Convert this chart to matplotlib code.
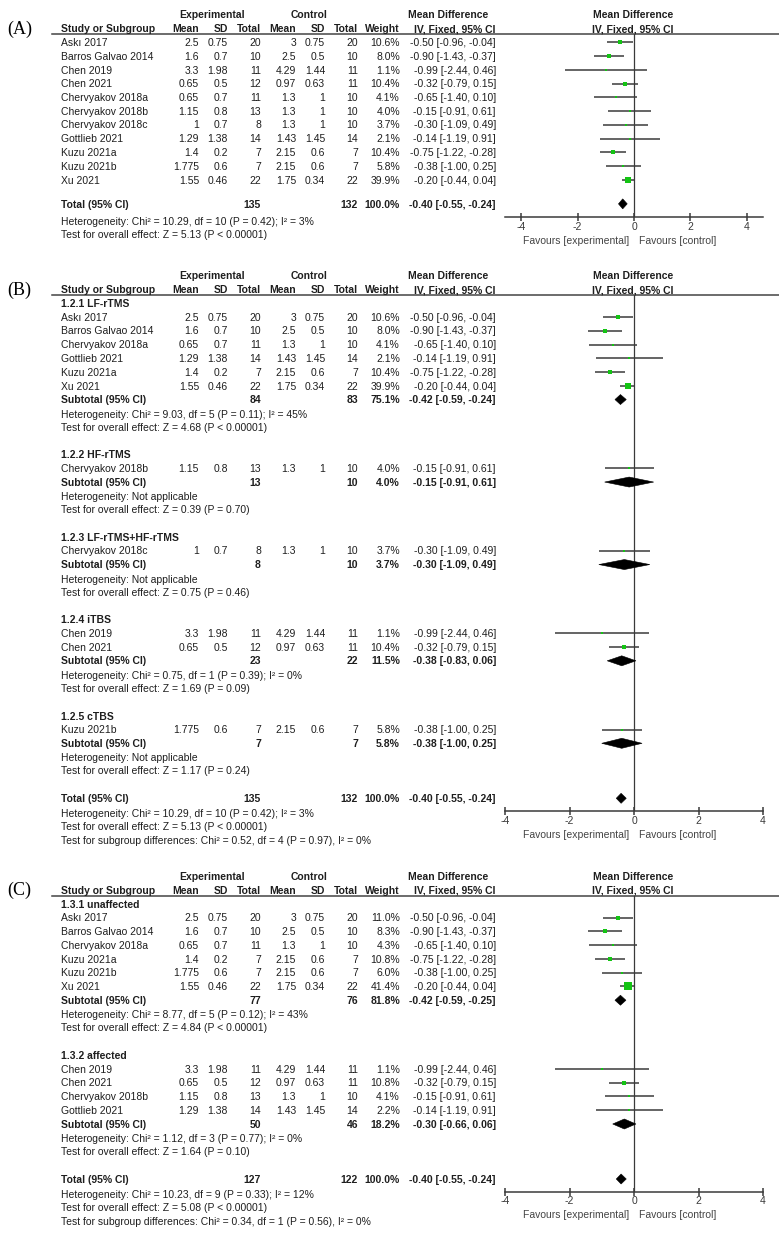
import matplotlib.pyplot as plt
from matplotlib.patches import Polygon
import numpy as np

plt.rcParams['font.family'] = ['Liberation Sans', 'DejaVu Sans']
plt.rcParams['axes.unicode_minus'] = False

# studies
names = ["Askı 2017", "Barros Galvao 2014", "Chen 2019", "Chen 2021", "Chervyakov 2018a",
         "Chervyakov 2018b", "Chervyakov 2018c", "Gottlieb 2021", "Kuzu 2021a", "Kuzu 2021b", "Xu 2021"]
exp_mean = [2.5, 1.6, 3.3, 0.65, 0.65, 1.15, 1, 1.29, 1.4, 1.775, 1.55]
exp_sd = [0.75, 0.7, 1.98, 0.5, 0.7, 0.8, 0.7, 1.38, 0.2, 0.6, 0.46]
exp_n = [20, 10, 11, 12, 11, 13, 8, 14, 7, 7, 22]
ctl_mean = [3, 2.5, 4.29, 0.97, 1.3, 1.3, 1.3, 1.43, 2.15, 2.15, 1.75]
ctl_sd = [0.75, 0.5, 1.44, 0.63, 1, 1, 1, 1.45, 0.6, 0.6, 0.34]
ctl_n = [20, 10, 11, 11, 10, 10, 10, 14, 7, 7, 22]
md = [-0.50, -0.90, -0.99, -0.32, -0.65, -0.15, -0.30, -0.14, -0.75, -0.38, -0.20]
ci_lo = [-0.96, -1.43, -2.44, -0.79, -1.40, -0.91, -1.09, -1.19, -1.22, -1.00, -0.44]
ci_hi = [-0.04, -0.37, 0.46, 0.15, 0.10, 0.61, 0.49, 0.91, -0.28, 0.25, 0.04]

# panel A (no subgroups)
weights_a = [10.6, 8.0, 1.1, 10.4, 4.1, 4.0, 3.7, 2.1, 10.4, 5.8, 39.9]

# panel B subgroups
grp_b_names = ["1.2.1 LF-rTMS", "1.2.2 HF-rTMS", "1.2.3 LF-rTMS+HF-rTMS", "1.2.4 iTBS", "1.2.5 cTBS"]
grp_b_members = [[0, 1, 4, 7, 8, 10], [5], [6], [2, 3], [9]]
grp_b_w = [[10.6, 8.0, 4.1, 2.1, 10.4, 39.9], [4.0], [3.7], [1.1, 10.4], [5.8]]
grp_b_en = [84, 13, 8, 23, 7]
grp_b_cn = [83, 10, 10, 22, 7]
grp_b_wt = [75.1, 4.0, 3.7, 11.5, 5.8]
grp_b_md = [-0.42, -0.15, -0.30, -0.38, -0.38]
grp_b_lo = [-0.59, -0.91, -1.09, -0.83, -1.00]
grp_b_hi = [-0.24, 0.61, 0.49, 0.06, 0.25]
grp_b_het = ["Chi² = 9.03, df = 5 (P = 0.11); I² = 45%", "Not applicable", "Not applicable",
             "Chi² = 0.75, df = 1 (P = 0.39); I² = 0%", "Not applicable"]
grp_b_z = ["Z = 4.68 (P < 0.00001)", "Z = 0.39 (P = 0.70)", "Z = 0.75 (P = 0.46)",
           "Z = 1.69 (P = 0.09)", "Z = 1.17 (P = 0.24)"]

# panel C subgroups
grp_c_names = ["1.3.1 unaffected", "1.3.2 affected"]
grp_c_members = [[0, 1, 4, 8, 9, 10], [2, 3, 5, 7]]
grp_c_w = [[11.0, 8.3, 4.3, 10.8, 6.0, 41.4], [1.1, 10.8, 4.1, 2.2]]
grp_c_en = [77, 50]
grp_c_cn = [76, 46]
grp_c_wt = [81.8, 18.2]
grp_c_md = [-0.42, -0.30]
grp_c_lo = [-0.59, -0.66]
grp_c_hi = [-0.25, 0.06]
grp_c_het = ["Chi² = 8.77, df = 5 (P = 0.12); I² = 43%", "Chi² = 1.12, df = 3 (P = 0.77); I² = 0%"]
grp_c_z = ["Z = 4.84 (P < 0.00001)", "Z = 1.64 (P = 0.10)"]

# overall totals for A, B, C
tot_en = [135, 135, 127]
tot_cn = [132, 132, 122]
tot_md = [-0.40, -0.40, -0.40]
tot_lo = [-0.55, -0.55, -0.55]
tot_hi = [-0.24, -0.24, -0.24]
tot_het = ["Chi² = 10.29, df = 10 (P = 0.42); I² = 3%", "Chi² = 10.29, df = 10 (P = 0.42); I² = 3%",
           "Chi² = 10.23, df = 9 (P = 0.33); I² = 12%"]
tot_z = ["Z = 5.13 (P < 0.00001)", "Z = 5.13 (P < 0.00001)", "Z = 5.08 (P < 0.00001)"]
sub_diff = [None, "Chi² = 0.52, df = 4 (P = 0.97), I² = 0%", "Chi² = 0.34, df = 1 (P = 0.56), I² = 0%"]
ticks = [-4, -2, 0, 2, 4]

W, H = 779, 1233
fig = plt.figure(figsize=(W / 100, H / 100), dpi=100)
tab = fig.add_axes([0, 0, 1, 1])
tab.set_xlim(0, W)
tab.set_ylim(H, 0)
tab.axis('off')

FS = 7.5
TXT = '#1e1e1e'
GRAY = '#3a3a3a'
GRN = '#14c414'
STEP = 13.75
X_NAME, X_EM, X_ESD, X_EN, X_CM, X_CSD, X_CN, X_W, X_CI = 61, 199, 228, 261, 296, 325, 358, 400, 496


def put(x, y, s, ha='right', bold=False, color=TXT):
    tab.text(x, y + 3.7, s, ha=ha, va='baseline', fontsize=FS, color=color,
             fontweight='bold' if bold else 'normal')


def num(v):
    return f'{v:g}'


def ci_txt(m, lo, hi):
    return f'{m:.2f} [{lo:.2f}, {hi:.2f}]'


def header(label, top):
    hy = top - STEP
    tab.text(7, hy + 5, label, fontsize=13, family=['Liberation Serif', 'DejaVu Serif'],
             ha='left', va='baseline', color='black')
    put(212, hy - 14, 'Experimental', ha='center', bold=True)
    put(309.5, hy - 14, 'Control', ha='center', bold=True)
    put(448, hy - 14, 'Mean Difference', ha='center', bold=True)
    put(633, hy - 14, 'Mean Difference', ha='center', bold=True)
    put(X_NAME, hy, 'Study or Subgroup', ha='left', bold=True)
    for x, s in [(X_EM, 'Mean'), (X_ESD, 'SD'), (X_EN, 'Total'), (X_CM, 'Mean'),
                 (X_CSD, 'SD'), (X_CN, 'Total'), (X_W, 'Weight'), (495, 'IV, Fixed, 95% CI')]:
        put(x, hy, s, bold=True)
    put(633, hy, 'IV, Fixed, 95% CI', ha='center', bold=True)
    tab.plot([52, W], [hy + 5.5, hy + 5.5], color='#444444', lw=1.1)
    return hy + 5.5


def forest_axes(line_y, axis_y, xmax):
    ax = fig.add_axes([505 / W, 1 - axis_y / H, 258 / W, (axis_y - line_y) / H])
    ax.set_xlim(-xmax, xmax)
    ax.set_ylim(axis_y, line_y)
    ax.patch.set_visible(False)
    for s in ['top', 'left', 'right']:
        ax.spines[s].set_visible(False)
    ax.spines['bottom'].set_color(GRAY)
    ax.spines['bottom'].set_linewidth(1.1)
    ax.set_yticks([])
    ax.set_xticks(ticks)
    ax.set_xticklabels([str(t) for t in ticks])
    ax.tick_params(axis='x', direction='inout', length=6, width=1.1, colors=GRAY,
                   labelsize=FS, pad=0.5)
    ax.axvline(0, color=GRAY, lw=0.9)
    put(629, axis_y + 23, 'Favours [experimental]', color='#444444')
    put(639, axis_y + 23, 'Favours [control]', ha='left', color='#444444')
    return ax


def study_row(ax, i, y, w):
    put(X_NAME, y, names[i], ha='left')
    put(X_EM, y, num(exp_mean[i]))
    put(X_ESD, y, num(exp_sd[i]))
    put(X_EN, y, str(exp_n[i]))
    put(X_CM, y, num(ctl_mean[i]))
    put(X_CSD, y, num(ctl_sd[i]))
    put(X_CN, y, str(ctl_n[i]))
    put(X_W, y, f'{w:.1f}%')
    put(X_CI, y, ci_txt(md[i], ci_lo[i], ci_hi[i]))
    ax.hlines(y, ci_lo[i], ci_hi[i], color=GRAY, lw=1.1, zorder=2)
    side = 1.1 * np.sqrt(w) * 0.72
    ax.scatter([md[i]], [y], marker='s', s=side ** 2, color=GRN, linewidths=0, zorder=3, clip_on=False)


def summary_row(ax, label, y, en, cn, w, m, lo, hi):
    put(X_NAME, y, label, ha='left', bold=True)
    put(X_EN, y, str(en), bold=True)
    put(X_CN, y, str(cn), bold=True)
    put(X_W, y, f'{w:.1f}%', bold=True)
    put(X_CI, y, ci_txt(m, lo, hi), bold=True)
    ax.add_patch(Polygon([(lo, y), (m, y - 5), (hi, y), (m, y + 5)], closed=True,
                         fc='black', ec='black', lw=0.4, zorder=3))


def row_y(top, r):
    return top + r * STEP


# ---------- panel A ----------
top = 42.3
line_y = header('(A)', top)
total_y = row_y(top, len(names) + 0.75)
ax = forest_axes(line_y, total_y + 13, 4.57)
for i in range(len(names)):
    study_row(ax, i, row_y(top, i), weights_a[i])
summary_row(ax, 'Total (95% CI)', total_y, tot_en[0], tot_cn[0], 100.0, tot_md[0], tot_lo[0], tot_hi[0])
put(X_NAME, row_y(top, len(names) + 2), 'Heterogeneity: ' + tot_het[0], ha='left')
put(X_NAME, row_y(top, len(names) + 3), 'Test for overall effect: ' + tot_z[0], ha='left')


# ---------- panels B and C ----------
def grouped_panel(k, label, top, g_names, g_members, g_w, g_en, g_cn, g_wt, g_md, g_lo, g_hi, g_het, g_z):
    line_y = header(label, top)
    n_rows = sum(len(m) + 5 for m in g_members)
    total_y = row_y(top, n_rows)
    ax = forest_axes(line_y, total_y + 12.5, 4)
    r = 0
    for g in range(len(g_names)):
        put(X_NAME, row_y(top, r), g_names[g], ha='left', bold=True)
        for j, i in enumerate(g_members[g]):
            study_row(ax, i, row_y(top, r + 1 + j), g_w[g][j])
        r += len(g_members[g]) + 1
        summary_row(ax, 'Subtotal (95% CI)', row_y(top, r), g_en[g], g_cn[g], g_wt[g], g_md[g], g_lo[g], g_hi[g])
        put(X_NAME, row_y(top, r + 1.05), 'Heterogeneity: ' + g_het[g], ha='left')
        put(X_NAME, row_y(top, r + 2), 'Test for overall effect: ' + g_z[g], ha='left')
        r += 4
    summary_row(ax, 'Total (95% CI)', total_y, tot_en[k], tot_cn[k], 100.0, tot_md[k], tot_lo[k], tot_hi[k])
    put(X_NAME, row_y(top, r + 1.1), 'Heterogeneity: ' + tot_het[k], ha='left')
    put(X_NAME, row_y(top, r + 2.05), 'Test for overall effect: ' + tot_z[k], ha='left')
    put(X_NAME, row_y(top, r + 3.05), 'Test for subgroup differences: ' + sub_diff[k], ha='left')


grouped_panel(1, '(B)', 303.3, grp_b_names, grp_b_members, grp_b_w, grp_b_en, grp_b_cn, grp_b_wt,
              grp_b_md, grp_b_lo, grp_b_hi, grp_b_het, grp_b_z)
grouped_panel(2, '(C)', 904.0, grp_c_names, grp_c_members, grp_c_w, grp_c_en, grp_c_cn, grp_c_wt,
              grp_c_md, grp_c_lo, grp_c_hi, grp_c_het, grp_c_z)

fig.savefig('out.png', dpi=100)
